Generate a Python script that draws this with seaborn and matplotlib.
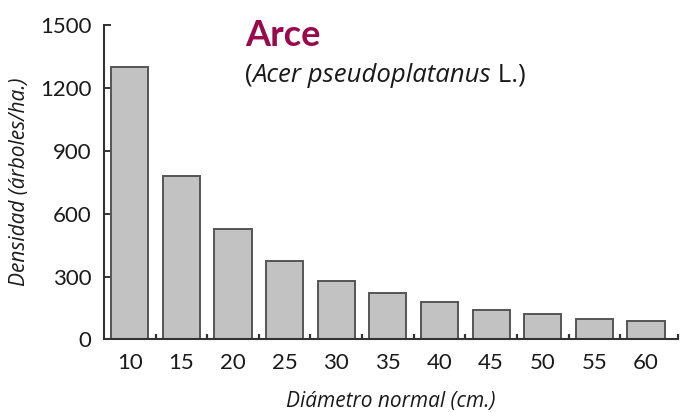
import pandas as pd
import matplotlib.pyplot as plt
import seaborn as sns

# Densidad de arce por clase diamétrica
diametros = ['10', '15', '20', '25', '30', '35', '40', '45', '50', '55', '60']
densidad = [1300, 780, 525, 375, 278, 220, 177, 139, 120, 99, 90]
y_ticks = [0, 300, 600, 900, 1200, 1500]

sns.set_style("ticks")
plt.rcParams['font.family'] = ['Lato', 'DejaVu Sans']

df = pd.DataFrame({'diametro': diametros, 'densidad': densidad})

fig = plt.figure(figsize=(6.8, 4.13), dpi=100)
ax = fig.add_axes([0.153, 0.178, 0.844, 0.762])

sns.barplot(data=df, x='diametro', y='densidad', color='#c2c2c2',
            edgecolor='#555555', linewidth=1.4, width=0.72,
            saturation=1, ax=ax)

ax.set_ylim(0, 1500)
ax.set_xlim(-0.5, 10.62)
ax.set_yticks(y_ticks)
ax.set_yticklabels([str(t) for t in y_ticks], fontsize=16, color='#1a1a1a')
ax.set_xticks(range(len(diametros)))
ax.set_xticklabels(diametros, fontsize=16, color='#1a1a1a')

# small ticks between bars on the x axis
ax.set_xticks([i + 0.5 for i in range(len(diametros) - 1)] + [10.62], minor=True)
ax.set_yticks([1500], minor=True)
ax.tick_params(axis='x', which='major', length=0, pad=10)
ax.tick_params(axis='x', which='minor', direction='in', length=3.5, width=1.6,
               color='#333333')
ax.tick_params(axis='y', which='major', direction='in', length=5, width=1.4,
               color='#333333', pad=9)
ax.tick_params(axis='y', which='minor', direction='in', length=11, width=1.4,
               color='#333333')

for side in ['top', 'right']:
    ax.spines[side].set_visible(False)
for side in ['left', 'bottom']:
    ax.spines[side].set_color('#333333')
    ax.spines[side].set_linewidth(1.5)

lab_font = ['Open Sans', 'DejaVu Sans']
ax.set_xlabel('Diámetro normal (cm.)', fontsize=15, style='italic',
              family=lab_font, color='#1a1a1a', labelpad=13)
ax.set_ylabel('Densidad (árboles/ha.)', fontsize=15, style='italic',
              family=lab_font, color='#1a1a1a', labelpad=7)

# titles
fig.text(245 / 680, 1 - 46 / 413, 'Arce', fontsize=26, fontweight='bold',
         color='#990a4c', ha='left', va='baseline')
t1 = fig.text(245 / 680, 1 - 82 / 413, '(', fontsize=18.5, color='#1a1a1a',
              family=lab_font, ha='left', va='baseline')
t2 = ax.annotate('Acer pseudoplatanus', xy=(1, 0), xycoords=t1, fontsize=18.5,
                 style='italic', family=lab_font, color='#1a1a1a',
                 ha='left', va='bottom', annotation_clip=False)
ax.annotate(' L.)', xy=(1, 0), xycoords=t2, fontsize=18.5, color='#1a1a1a',
            family=lab_font, ha='left', va='bottom', annotation_clip=False)

plt.savefig('out.png', dpi=100)
